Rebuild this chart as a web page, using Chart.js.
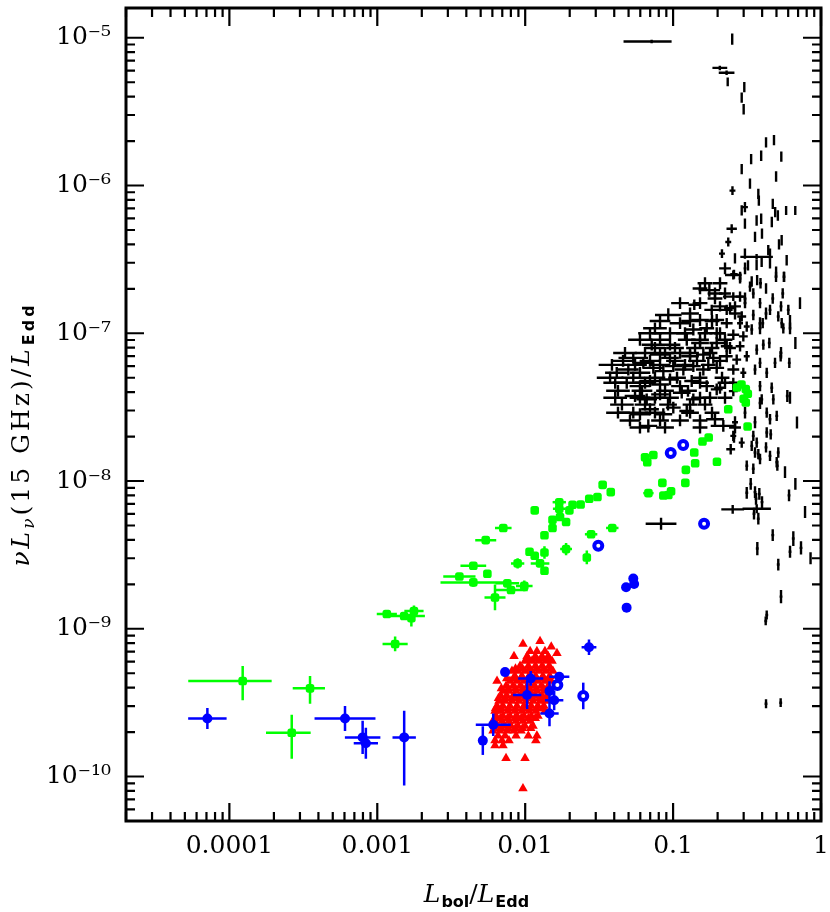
<!DOCTYPE html>
<html><head><meta charset="utf-8">
<script src="https://cdn.jsdelivr.net/npm/chart.js@4.4.1/dist/chart.umd.min.js"></script>
<style>html,body{margin:0;padding:0;background:#fff;}canvas{display:block;}</style>
</head><body>
<canvas id="c" width="830" height="912"></canvas>
<script>
// ---------- axis values ----------
const xRange = [2e-5, 1];
const yRange = [5e-11, 1.59e-5];
const xTickValues = [1e-4, 1e-3, 1e-2, 1e-1, 1];
const xTickLabels = ['0.0001', '0.001', '0.01', '0.1', '1'];
const yTickValues = [1e-10, 1e-9, 1e-8, 1e-7, 1e-6, 1e-5];
const yTickLabels = ['10\u207B\u00B9\u2070', '10\u207B\u2079', '10\u207B\u2078', '10\u207B\u2077', '10\u207B\u2076', '10\u207B\u2075'];

// ---------- series: [x, y, xErr(dex), yErr(dex)] ; err may be [low, high] ----------
const blackPts = [
[0.0716,9.44e-6,[0.19,0.135],0.012],[0.251,9.80e-6,0.008,0.038],[0.207,6.25e-6,0.05,0.015],[0.230,5.79e-6,0.053,0.015],
[0.234,5.03e-6,0.008,0.03],[0.303,4.63e-6,0.008,0.035],[0.291,3.93e-6,0.008,0.035],[0.300,3.28e-6,0.008,0.035],
[0.425,1.96e-6,0.008,0.035],[0.481,2.03e-6,0.008,0.035],[0.394,1.59e-6,0.008,0.035],[0.337,1.51e-6,0.008,0.035],
[0.539,1.57e-6,0.008,0.035],[0.291,1.29e-6,0.008,0.035],[0.497,1.15e-6,0.008,0.035],[0.252,9.24e-7,0.02,0.03],
[0.377,8.78e-7,0.008,0.035],[0.380,7.91e-7,0.008,0.035],[0.291,6.78e-7,0.008,0.035],[0.306,7.14e-7,0.02,0.035],
[0.367,5.80e-7,0.008,0.035],[0.394,5.96e-7,0.008,0.035],[0.490,6.61e-7,0.008,0.035],[0.511,6.27e-7,0.008,0.035],
[0.581,6.78e-7,0.008,0.03],[0.670,6.78e-7,0.008,0.03],[0.465,5.66e-7,0.008,0.035],[0.249,5.10e-7,0.035,0.03],
[0.306,5.52e-7,0.008,0.035],[0.236,4.15e-7,0.02,0.03],[0.358,4.49e-7,0.008,0.035],[0.542,4.26e-7,0.008,0.035],
[0.520,4.00e-7,0.008,0.035],[0.214,3.46e-7,0.02,0.03],[0.262,3.21e-7,0.008,0.035],[0.367,3.29e-7,0.11,0.02],
[0.306,3.46e-7,0.008,0.035],[0.367,2.89e-7,0.008,0.035],[0.397,3.05e-7,0.008,0.035],[0.440,3.65e-7,0.008,0.035],
[0.452,2.97e-7,0.008,0.035],[0.586,3.12e-7,0.008,0.035],[0.562,2.41e-7,0.008,0.035],[0.497,2.61e-7,0.008,0.035],
[0.258,2.51e-7,0.025,0.03],[0.284,2.41e-7,0.008,0.035],[0.340,2.24e-7,0.008,0.035],[0.370,2.29e-7,0.008,0.035],
[0.399,4.72e-7,0.008,0.035],[0.472,7.52e-7,0.008,0.035],[0.331,1.03e-6,0.008,0.035],[0.452,3.46e-7,0.008,0.035],
[0.321,2.88e-7,0.008,0.035],[0.425,2.01e-7,0.008,0.035],[0.617,1.21e-7,0.008,0.04],[0.671,8.59e-8,0.008,0.04],
[0.721,1.60e-7,0.008,0.04],
[0.1758,1.96e-7,0.073,0.045],[0.2553,2.48e-7,0.056,0.03],[0.2836,2.35e-7,0.01,0.035],[0.390,2.18e-7,0.01,0.035],
[0.3312,2.07e-7,0.01,0.035],[0.3486,1.86e-7,0.01,0.035],[0.2836,1.77e-7,0.03,0.035],[0.2553,1.77e-7,0.07,0.03],
[0.387,1.60e-7,0.01,0.035],[0.4716,1.72e-7,0.01,0.035],[0.551,1.86e-7,0.01,0.035],[0.4965,2.41e-7,0.01,0.035],
[0.5623,2.41e-7,0.01,0.035],[0.0928,1.33e-7,0.09,0.045],[0.1391,1.56e-7,0.04,0.035],[0.1825,1.44e-7,0.05,0.035],
[0.2076,1.52e-7,0.05,0.035],[0.2304,1.44e-7,0.04,0.035],[0.2622,1.52e-7,0.04,0.035],[0.3486,1.33e-7,0.01,0.035],
[0.4521,1.44e-7,0.01,0.035],[0.5142,1.30e-7,0.01,0.035],[0.6012,1.44e-7,0.01,0.035],[0.2911,1.30e-7,0.03,0.035],
[0.5366,1.52e-7,0.01,0.035],
[0.1114,1.17e-7,0.07,0.04],[0.1521,1.23e-7,0.06,0.04],[0.1972,1.23e-7,0.05,0.04],[0.2304,1.17e-7,0.04,0.035],
[0.3147,1.11e-7,0.02,0.035],[0.4036,1.17e-7,0.01,0.035],[0.3401,1.06e-7,0.01,0.035],[0.0953,1.00e-7,0.124,0.04],
[0.137,1.06e-7,0.06,0.04],[0.1688,1.08e-7,0.05,0.04],[0.1972,1.00e-7,0.05,0.04],[0.2553,9.77e-8,0.04,0.035],
[0.2984,9.53e-8,0.03,0.035],[0.4473,8.59e-8,0.01,0.035],[0.5424,1.17e-7,0.01,0.035],[0.5561,1.08e-7,0.01,0.035],
[0.0717,8.37e-8,0.068,0.04],[0.0953,8.37e-8,0.07,0.04],[0.1237,9.04e-8,0.06,0.04],[0.1521,8.59e-8,0.06,0.04],
[0.1972,8.59e-8,0.05,0.04],[0.2304,8.16e-8,0.04,0.04],[0.2836,8.16e-8,0.03,0.035],[0.3676,7.74e-8,0.01,0.035],
[0.4074,8.37e-8,0.01,0.035],[0.0538,6.81e-8,0.1,0.04],[0.0629,6.30e-8,0.07,0.04],[0.0816,7.17e-8,0.07,0.04],
[0.0953,6.81e-8,0.06,0.04],[0.1114,7.36e-8,0.06,0.04],[0.1302,6.99e-8,0.06,0.04],[0.1601,7.17e-8,0.05,0.04],
[0.187,6.81e-8,0.05,0.04],[0.2304,6.99e-8,0.04,0.04],[0.2692,6.63e-8,0.03,0.035],[0.3147,6.99e-8,0.02,0.035],
[0.387,6.30e-8,0.01,0.035],[0.4888,6.30e-8,0.01,0.035],[0.5337,6.99e-8,0.01,0.035],[0.6107,6.30e-8,0.01,0.035],
[0.5366,7.36e-8,0.01,0.04],
[0.0416,5.40e-8,0.079,0.04],[0.0498,5.68e-8,0.07,0.04],[0.0597,5.40e-8,0.07,0.04],[0.0735,5.83e-8,0.07,0.04],
[0.0859,5.54e-8,0.06,0.04],[0.1003,5.99e-8,0.06,0.04],[0.1173,5.68e-8,0.06,0.04],[0.137,5.99e-8,0.05,0.04],
[0.1601,5.68e-8,0.05,0.04],[0.1972,5.83e-8,0.05,0.04],[0.2553,5.68e-8,0.04,0.035],[0.2984,5.40e-8,0.02,0.035],
[0.358,5.68e-8,0.01,0.035],[0.4295,5.40e-8,0.01,0.035],[0.0486,4.62e-8,0.096,0.04],[0.0597,4.39e-8,0.07,0.04],
[0.0698,4.75e-8,0.07,0.04],[0.0816,4.50e-8,0.06,0.04],[0.0953,4.87e-8,0.06,0.04],[0.1114,4.39e-8,0.06,0.04],
[0.1336,4.75e-8,0.05,0.04],[0.1688,4.39e-8,0.05,0.04],[0.2076,4.28e-8,0.04,0.04],[0.2553,4.62e-8,0.03,0.035],
[0.387,4.39e-8,0.01,0.035],[0.4643,4.28e-8,0.01,0.035],[0.0553,3.76e-8,0.07,0.04],[0.0663,3.57e-8,0.07,0.04],
[0.0816,3.86e-8,0.06,0.04],[0.0953,3.66e-8,0.06,0.04],[0.1144,3.96e-8,0.06,0.04],[0.137,3.57e-8,0.05,0.04],
[0.1777,3.66e-8,0.05,0.04],[0.1972,4.17e-8,0.04,0.04],[0.2553,4.06e-8,0.03,0.035],[0.3974,3.57e-8,0.01,0.035],
[0.476,3.57e-8,0.01,0.035],[0.592,3.76e-8,0.01,0.04],
[0.0538,2.90e-8,0.1,0.04],[0.0597,2.83e-8,0.07,0.04],[0.0698,3.06e-8,0.06,0.04],[0.0859,2.83e-8,0.06,0.04],
[0.1003,3.14e-8,0.05,0.04],[0.1237,2.98e-8,0.05,0.04],[0.068,2.36e-8,0.06,0.045],[0.192,2.62e-8,0.06,0.04],
[0.2185,2.36e-8,0.085,0.04],[0.2553,2.02e-8,0.02,0.035],[0.2911,1.82e-8,0.02,0.035],[0.4295,2.90e-8,0.01,0.035],
[0.4521,2.62e-8,0.01,0.035],[0.5019,2.76e-8,0.01,0.035],[0.4295,2.13e-8,0.01,0.035],[0.3401,1.73e-8,0.01,0.035],
[0.358,1.56e-8,0.01,0.035],[0.387,1.41e-8,0.01,0.035],[0.5142,1.56e-8,0.01,0.035],[0.5019,1.34e-8,0.01,0.035],
[0.3147,1.27e-8,0.01,0.035],[0.2452,1.64e-8,0.03,0.035],[0.2581,1.97e-8,0.01,0.035],[0.3486,1.21e-8,0.01,0.035],
[0.3486,2.02e-8,0.01,0.035],[0.3676,1.82e-8,0.01,0.035],[0.3769,1.52e-8,0.01,0.035],[0.4571,2.07e-8,0.01,0.035],
[0.4249,1.69e-8,0.01,0.035],[0.4521,1.48e-8,0.01,0.035],[0.5067,1.27e-8,0.01,0.035],
[0.0754,7.95e-8,0.07,0.04],[0.1030,7.95e-8,0.06,0.04],[0.1407,7.95e-8,0.06,0.04],[0.1833,7.95e-8,0.05,0.04],[0.2425,7.95e-8,0.04,0.04],
[0.0459,6.50e-8,0.08,0.04],[0.0698,6.50e-8,0.07,0.04],[0.1030,6.50e-8,0.06,0.04],[0.1451,6.50e-8,0.06,0.04],[0.2076,6.50e-8,0.05,0.04],
[0.0375,5.00e-8,0.09,0.04],[0.0538,5.00e-8,0.08,0.04],[0.0754,5.00e-8,0.07,0.04],[0.1063,5.00e-8,0.06,0.04],[0.1521,5.00e-8,0.05,0.04],[0.2142,5.00e-8,0.05,0.04],
[0.0424,4.08e-8,0.08,0.04],[0.0616,4.08e-8,0.07,0.04],[0.0882,4.08e-8,0.06,0.04],[0.1261,4.08e-8,0.06,0.04],[0.3064,4.08e-8,0.01,0.04],
[0.0451,3.29e-8,0.08,0.04],[0.0646,3.29e-8,0.07,0.04],[0.0924,3.29e-8,0.06,0.04],[0.1302,3.29e-8,0.05,0.04],[0.1643,3.29e-8,0.05,0.04],
[0.0511,2.57e-8,0.07,0.04],[0.0816,2.57e-8,0.06,0.04],[0.1114,2.57e-8,0.06,0.04],[0.1521,2.57e-8,0.05,0.04],
[0.0698,1.00e-7,0.08,0.04],[0.1204,1.00e-7,0.06,0.04],[0.1643,1.00e-7,0.05,0.04],
[0.0816,1.21e-7,0.07,0.04],[0.1302,1.21e-7,0.06,0.04],[0.1833,1.21e-7,0.05,0.04],
[0.1114,1.60e-7,0.06,0.04],[0.1521,1.60e-7,0.05,0.04],[0.3064,1.60e-7,0.01,0.035],
[0.1920,1.86e-7,0.05,0.04],[0.2244,1.86e-7,0.04,0.04],
[0.0597,9.04e-8,0.08,0.04],[0.0816,9.04e-8,0.07,0.04],[0.1521,9.04e-8,0.06,0.04],[0.2244,9.04e-8,0.05,0.04],
[0.0473,7.36e-8,0.08,0.04],[0.0646,7.36e-8,0.07,0.04],[0.0882,7.36e-8,0.07,0.04],[0.1302,7.36e-8,0.06,0.04],[0.1777,7.36e-8,0.05,0.04],
[0.0386,6.11e-8,0.09,0.04],[0.0553,6.11e-8,0.08,0.04],[0.0816,6.11e-8,0.07,0.04],[0.1204,6.11e-8,0.06,0.04],[0.1730,6.11e-8,0.05,0.04],
[0.0406,4.62e-8,0.08,0.04],[0.0646,4.62e-8,0.07,0.04],[0.1521,4.62e-8,0.06,0.04],[0.2244,4.62e-8,0.05,0.04],
[0.0406,3.66e-8,0.08,0.04],[0.0597,3.66e-8,0.07,0.04],[0.0754,3.66e-8,0.07,0.04],[0.1521,3.66e-8,0.06,0.04],[0.2244,3.66e-8,0.05,0.04],
[0.0424,2.90e-8,0.08,0.04],[0.0754,2.90e-8,0.07,0.04],[0.1302,2.90e-8,0.06,0.04],[0.1833,2.90e-8,0.05,0.04],
[0.0597,2.30e-8,0.07,0.04],[0.0882,2.30e-8,0.06,0.04],[0.1521,2.30e-8,0.05,0.04],[0.2622,2.30e-8,0.04,0.04],
[0.1302,1.36e-7,0.06,0.04],[0.2622,1.36e-7,0.04,0.04],[0.4249,1.36e-7,0.01,0.04],
[0.0754,1.08e-7,0.08,0.04],[0.387,1.08e-7,0.01,0.04],[0.6174,1.08e-7,0.01,0.04],
[0.2076,2.18e-7,0.05,0.04],[0.1643,2.18e-7,0.05,0.04],[0.3064,2.75e-7,0.01,0.04],[0.2244,2.75e-7,0.04,0.04],
[0.1521,2.01e-7,0.05,0.04],[0.192,1.72e-7,0.05,0.04],[0.2425,1.48e-7,0.04,0.04],[0.3064,1.72e-7,0.01,0.04],
[0.387,1.17e-7,0.01,0.04],[0.2076,1.00e-7,0.04,0.04],[0.2836,1.17e-7,0.02,0.04],
[0.3064,2.90e-8,0.01,0.04],[0.358,2.50e-8,0.01,0.04],[0.2622,2.50e-8,0.02,0.04],[0.387,3.37e-8,0.01,0.04],
[0.617,3.66e-8,0.008,0.04],[0.688,2.49e-8,0.008,0.04],[0.571,1.15e-8,0.008,0.04],[0.671,9.56e-9,0.008,0.04],
[0.780,6.17e-9,0.008,0.04],[0.850,3.0e-9,0.008,0.04],
[0.3147,8.32e-9,0.01,0.04],[0.3348,9.56e-9,0.01,0.04],[0.358,8.41e-9,0.01,0.04],[0.3636,7.58e-9,0.01,0.04],
[0.3828,8.19e-9,0.01,0.04],[0.3992,7.20e-9,0.01,0.04],[0.3676,6.49e-9,0.096,0.03],[0.2529,6.43e-9,0.077,0.03],
[0.3524,6.01e-9,0.01,0.04],[0.3769,5.56e-9,0.01,0.04],[0.0829,5.14e-9,0.104,0.04],[0.6079,7.99e-9,0.01,0.04],
[0.4716,4.30e-9,0.01,0.04],[0.6499,4.08e-9,0.01,0.05],[0.3711,3.49e-9,0.01,0.045],[0.6174,3.32e-9,0.01,0.04],
[0.7325,3.53e-9,0.01,0.045],[0.5142,2.72e-9,0.01,0.04],[0.5366,1.65e-9,0.01,0.045],[0.4295,1.24e-9,0.01,0.03],
[0.4228,1.13e-9,0.01,0.03],[0.4249,3.11e-10,0.01,0.03],[0.5337,3.16e-10,0.01,0.03]
];

const greenPts = [
[1.23e-4,4.43e-10,[0.368,0.196],[0.13,0.101]],[3.51e-4,3.95e-10,[0.117,0.101],[0.104,0.083]],
[2.64e-4,1.98e-10,[0.174,0.128],[0.177,0.121]],[1.32e-3,7.89e-10,0.085,0.05],
[1.16e-3,1.26e-9,0.068,0.015],[1.52e-3,1.22e-9,0.14,0.015],[1.77e-3,1.32e-9,0.065,0.037],[1.70e-3,1.18e-9,0.02,[0.056,0.034]],
[3.59e-3,2.26e-9,0.109,0.015],[4.46e-3,2.06e-9,0.222,0.03],[4.46e-3,2.67e-9,0.087,0.015],[5.55e-3,2.36e-9,0,0],
[5.41e-3,3.98e-9,0.071,0.01],[7.11e-3,4.81e-9,0.056,0.01],[6.25e-3,1.63e-9,0.071,0.087],[7.57e-3,2.03e-9,0.08,0.015],
[8.02e-3,1.83e-9,0.113,0.02],[9.86e-3,1.95e-9,0.056,0.036],[8.89e-3,2.77e-9,0.045,0.034],[1.07e-2,3.32e-9,0.02,0.01],
[1.16e-2,3.12e-9,0.02,0.02],[1.26e-2,2.77e-9,0.063,0.01],[1.35e-2,3.28e-9,0.01,0.042],[1.35e-2,2.47e-9,0,0],
[1.35e-2,4.30e-9,0,0],[1.53e-2,4.81e-9,0,0],[1.53e-2,5.47e-9,0,0],[1.89e-2,5.28e-9,0,0],[1.72e-2,5.71e-9,0,0],
[1.16e-2,6.33e-9,0.02,0],[1.70e-2,6.49e-9,0.043,0],[1.70e-2,7.19e-9,0.045,0],[1.99e-2,6.33e-9,0,0],
[2.09e-2,6.90e-9,0,0],[2.37e-2,6.94e-9,0,0],[2.71e-2,7.59e-9,0,0],[3.08e-2,7.79e-9,0,0],[3.34e-2,9.42e-9,0,0],
[3.79e-2,8.41e-9,0.02,0],[3.88e-2,4.81e-9,0.042,0],[2.79e-2,4.36e-9,0.042,0],[1.89e-2,3.46e-9,0.04,0.042],
[2.61e-2,3.04e-9,0.02,0.047],
[6.46e-2,1.45e-8,0,0],[6.69e-2,1.34e-8,0,0],[7.35e-2,1.50e-8,0,0],[6.81e-2,8.28e-9,0.035,0],
[8.46e-2,9.72e-9,0,0],[8.59e-2,7.98e-9,0,0],[9.29e-2,8.05e-9,0,0],[9.69e-2,8.53e-9,0,0],
[0.122,1.19e-8,0,0],[0.121,9.72e-9,0,0],[0.139,1.56e-8,0,0],[0.141,1.32e-8,0,0],[0.158,1.85e-8,0,0],
[0.174,1.97e-8,0,0],[0.198,1.35e-8,0,0],[0.319,2.34e-8,0,0],[0.236,3.06e-8,0,0],
[0.27,4.3e-8,0,0],[0.29,4.5e-8,0,0],[0.31,4.2e-8,0,0],[0.32,3.9e-8,0,0],[0.30,3.6e-8,0,0],[0.31,3.4e-8,0,0]
];

const bluePts = [
[7.1e-5,2.47e-10,0.13,0.071],[6.05e-4,2.47e-10,0.206,0.084],[7.96e-4,1.84e-10,0.12,0.113],[8.37e-4,1.68e-10,0.082,0.105],
[1.52e-3,1.84e-10,0.079,[0.325,0.18]],[5.17e-3,1.75e-10,0,0.097],[6.08e-3,2.24e-10,0.118,0.076],[7.31e-3,5.09e-10,0,0],
[1.09e-2,4.61e-10,0.085,0.05],[1.03e-2,3.56e-10,0.096,0.095],[1.46e-2,3.79e-10,0.015,0.067],[1.70e-2,4.73e-10,0.068,0.02],
[1.57e-2,3.28e-10,0.062,0.067],[1.46e-2,2.67e-10,0.062,0.087],[2.70e-2,7.50e-10,0.05,0.053],[4.85e-2,1.39e-9,0,0],
[5.38e-2,2.19e-9,0,0],[5.45e-2,2.01e-9,0,0],[4.81e-2,1.91e-9,0,0]
];

const blueOpenPts = [
[1.65e-2,4.16e-10,0,0],[2.47e-2,3.51e-10,0,0.09],[3.12e-2,3.64e-9,0,0],[9.64e-2,1.55e-8,0,0],
[0.117,1.75e-8,0,0],[0.162,5.14e-9,0,0]
];

const redPts = [
[1.26e-2,8.22e-10],[9.66e-3,7.88e-10],[1.50e-2,7.55e-10],
[1.08e-2,7.05e-10],[1.20e-2,7.05e-10],[1.36e-2,7.05e-10],[1.64e-2,6.83e-10],
[8.40e-3,6.52e-10],[1.03e-2,6.52e-10],[1.17e-2,6.52e-10],[1.30e-2,6.52e-10],[1.43e-2,6.52e-10],
[1.05e-2,6.27e-10],[1.17e-2,6.27e-10],[1.31e-2,6.27e-10],[1.46e-2,6.27e-10],
[9.97e-3,6.04e-10],[1.11e-2,6.04e-10],[1.24e-2,6.04e-10],[1.38e-2,6.04e-10],[1.52e-2,6.04e-10],
[9.23e-3,5.59e-10],[1.05e-2,5.59e-10],[1.17e-2,5.59e-10],[1.30e-2,5.59e-10],[1.45e-2,5.59e-10],
[8.6e-3,5.37e-10],[9.6e-3,5.37e-10],[1.07e-2,5.37e-10],[1.20e-2,5.37e-10],[1.34e-2,5.37e-10],[1.49e-2,5.37e-10],
[8.14e-3,5.17e-10],[8.94e-3,5.17e-10],[9.97e-3,5.17e-10],[1.11e-2,5.17e-10],[1.24e-2,5.17e-10],[1.38e-2,5.17e-10],[1.54e-2,5.17e-10],
[8.53e-3,4.78e-10],[9.52e-3,4.78e-10],[1.06e-2,4.78e-10],[1.18e-2,4.78e-10],[1.32e-2,4.78e-10],[1.47e-2,4.78e-10],
[7.5e-3,4.60e-10],[8.3e-3,4.60e-10],[9.3e-3,4.60e-10],[1.04e-2,4.60e-10],[1.16e-2,4.60e-10],[1.29e-2,4.60e-10],[1.43e-2,4.60e-10],
[6.45e-3,4.43e-10],[7.89e-3,4.43e-10],[8.81e-3,4.43e-10],[9.82e-3,4.43e-10],[1.10e-2,4.43e-10],[1.22e-2,4.43e-10],[1.36e-2,4.43e-10],[1.50e-2,4.43e-10],
[7.42e-3,4.10e-10],[8.27e-3,4.10e-10],[9.23e-3,4.10e-10],[1.03e-2,4.10e-10],[1.15e-2,4.10e-10],[1.28e-2,4.10e-10],[1.43e-2,4.10e-10],
[6.9e-3,3.94e-10],[7.7e-3,3.94e-10],[8.6e-3,3.94e-10],[9.6e-3,3.94e-10],[1.07e-2,3.94e-10],[1.19e-2,3.94e-10],[1.33e-2,3.94e-10],[1.46e-2,3.94e-10],
[7.08e-3,3.79e-10],[7.77e-3,3.79e-10],[8.67e-3,3.79e-10],[9.66e-3,3.79e-10],[1.08e-2,3.79e-10],[1.20e-2,3.79e-10],[1.34e-2,3.79e-10],[1.45e-2,3.79e-10],
[6.86e-3,3.51e-10],[7.54e-3,3.51e-10],[8.40e-3,3.51e-10],[9.37e-3,3.51e-10],[1.05e-2,3.51e-10],[1.17e-2,3.51e-10],[1.30e-2,3.51e-10],[1.40e-2,3.51e-10],
[6.6e-3,3.38e-10],[7.3e-3,3.38e-10],[8.1e-3,3.38e-10],[9.0e-3,3.38e-10],[1.00e-2,3.38e-10],[1.12e-2,3.38e-10],[1.25e-2,3.38e-10],[1.37e-2,3.38e-10],
[6.65e-3,3.25e-10],[7.31e-3,3.25e-10],[8.14e-3,3.25e-10],[9.08e-3,3.25e-10],[1.01e-2,3.25e-10],[1.13e-2,3.25e-10],[1.26e-2,3.25e-10],[1.38e-2,3.25e-10],
[6.45e-3,3.00e-10],[7.08e-3,3.00e-10],[7.89e-3,3.00e-10],[8.81e-3,3.00e-10],[9.82e-3,3.00e-10],[1.10e-2,3.00e-10],[1.22e-2,3.00e-10],[1.34e-2,3.00e-10],
[6.3e-3,2.89e-10],[6.9e-3,2.89e-10],[7.7e-3,2.89e-10],[8.6e-3,2.89e-10],[9.6e-3,2.89e-10],[1.07e-2,2.89e-10],[1.19e-2,2.89e-10],[1.31e-2,2.89e-10],
[6.25e-3,2.78e-10],[6.86e-3,2.78e-10],[7.65e-3,2.78e-10],[8.53e-3,2.78e-10],[9.52e-3,2.78e-10],[1.06e-2,2.78e-10],[1.18e-2,2.78e-10],[1.36e-2,2.78e-10],
[6.35e-3,2.57e-10],[7.08e-3,2.57e-10],[7.89e-3,2.57e-10],[8.81e-3,2.57e-10],[9.82e-3,2.57e-10],[1.10e-2,2.57e-10],[1.22e-2,2.57e-10],
[6.2e-3,2.48e-10],[6.8e-3,2.48e-10],[7.6e-3,2.48e-10],[8.5e-3,2.48e-10],[9.4e-3,2.48e-10],[1.05e-2,2.48e-10],[1.17e-2,2.48e-10],
[6.25e-3,2.38e-10],[6.97e-3,2.38e-10],[7.77e-3,2.38e-10],[8.67e-3,2.38e-10],[9.66e-3,2.38e-10],[1.08e-2,2.38e-10],
[6.45e-3,2.20e-10],[7.19e-3,2.20e-10],[8.02e-3,2.20e-10],[8.94e-3,2.20e-10],[9.97e-3,2.20e-10],[1.13e-2,2.20e-10],
[6.2e-3,2.12e-10],[6.9e-3,2.12e-10],[7.7e-3,2.12e-10],[8.6e-3,2.12e-10],[9.6e-3,2.12e-10],[1.09e-2,2.12e-10],
[6.06e-3,2.04e-10],[6.76e-3,2.04e-10],[7.54e-3,2.04e-10],[8.40e-3,2.04e-10],[9.37e-3,2.04e-10],
[6.55e-3,1.89e-10],[7.31e-3,1.89e-10],[8.67e-3,1.89e-10],[1.05e-2,1.89e-10],[1.20e-2,1.89e-10],
[6.25e-3,1.75e-10],[6.97e-3,1.75e-10],[7.77e-3,1.75e-10],[1.18e-2,1.75e-10],
[6.25e-3,1.62e-10],[7.08e-3,1.62e-10],
[7.42e-3,1.33e-10],[9.97e-3,1.33e-10],
[9.66e-3,8.3e-11]
];

// ---------- helpers ----------
const toObj = p => ({x: p[0], y: p[1], xe: p[2] || 0, ye: p[3] || 0});
function errRange(v, e) {
  const lo = Array.isArray(e) ? e[0] : e, hi = Array.isArray(e) ? e[1] : e;
  return [v / Math.pow(10, lo), v * Math.pow(10, hi)];
}
function logTickList(min, max) {
  const out = [];
  for (let e = Math.floor(Math.log10(min)); e <= Math.ceil(Math.log10(max)); e++) {
    for (let m = 1; m <= 9; m++) {
      const v = m * Math.pow(10, e);
      if (v >= min * 0.99999 && v <= max * 1.00001) out.push({v: v, major: m === 1});
    }
  }
  return out;
}
function labelFor(vals, labels, v) {
  for (let i = 0; i < vals.length; i++) if (Math.abs(v / vals[i] - 1) < 1e-6) return labels[i];
  return '';
}

const errorBarPlugin = {
  id: 'errbars',
  beforeDatasetDraw(chart, args) {
    const ds = chart.data.datasets[args.index];
    if (!ds.errColor) return;
    const ctx = chart.ctx, xs = chart.scales.x, ys = chart.scales.y, a = chart.chartArea;
    ctx.save();
    ctx.beginPath(); ctx.rect(a.left, a.top, a.right - a.left, a.bottom - a.top); ctx.clip();
    ctx.strokeStyle = ds.errColor; ctx.lineWidth = ds.errWidth; ctx.lineCap = 'butt';
    ds.data.forEach(d => {
      const px = xs.getPixelForValue(d.x), py = ys.getPixelForValue(d.y);
      ctx.beginPath();
      if (d.xe) { const r = errRange(d.x, d.xe); ctx.moveTo(xs.getPixelForValue(r[0]), py); ctx.lineTo(xs.getPixelForValue(r[1]), py); }
      if (d.ye) { const r = errRange(d.y, d.ye); ctx.moveTo(px, ys.getPixelForValue(r[0])); ctx.lineTo(px, ys.getPixelForValue(r[1])); }
      ctx.stroke();
    });
    ctx.restore();
  }
};

const framePlugin = {
  id: 'frame',
  afterDatasetsDraw(chart) {
    const ctx = chart.ctx, a = chart.chartArea, xs = chart.scales.x, ys = chart.scales.y;
    ctx.save();
    ctx.strokeStyle = '#000'; ctx.lineWidth = 2.2; ctx.lineCap = 'butt';
    logTickList(xRange[0], xRange[1]).forEach(t => {
      const p = xs.getPixelForValue(t.v), L = t.major ? 18 : 9;
      ctx.beginPath();
      ctx.moveTo(p, a.bottom); ctx.lineTo(p, a.bottom - L);
      ctx.moveTo(p, a.top); ctx.lineTo(p, a.top + L);
      ctx.stroke();
    });
    logTickList(yRange[0], yRange[1]).forEach(t => {
      const p = ys.getPixelForValue(t.v), L = t.major ? 18 : 9;
      ctx.beginPath();
      ctx.moveTo(a.left, p); ctx.lineTo(a.left + L, p);
      ctx.moveTo(a.right, p); ctx.lineTo(a.right - L, p);
      ctx.stroke();
    });
    ctx.lineWidth = 3;
    ctx.strokeRect(a.left, a.top, a.right - a.left, a.bottom - a.top);
    ctx.restore();
  }
};

function drawRich(ctx, segs, spacing) {
  let total = 0;
  segs.forEach(s => { ctx.font = s.font; s.w = ctx.measureText(s.t).width + spacing * s.t.length; total += s.w + (s.gap || 0); });
  let x = -total / 2;
  segs.forEach(s => {
    ctx.font = s.font;
    let cx = x;
    for (const ch of s.t) { ctx.fillText(ch, cx, s.dy || 0); cx += ctx.measureText(ch).width + spacing; }
    x += s.w + (s.gap || 0);
  });
}
const SERIF = '"DejaVu Serif"', SANS = '"DejaVu Sans"';
const titlePlugin = {
  id: 'titles',
  afterDraw(chart) {
    const ctx = chart.ctx, a = chart.chartArea;
    ctx.save();
    ctx.fillStyle = '#000'; ctx.textBaseline = 'alphabetic'; ctx.textAlign = 'left';
    // x title
    ctx.save();
    ctx.translate((a.left + a.right) / 2 + 3, 902);
    drawRich(ctx, [
      {t: 'L', font: 'italic 25px ' + SERIF, gap: 1},
      {t: 'bol', font: 'bold 16px ' + SANS, dy: 5},
      {t: '/', font: '25px ' + SERIF},
      {t: 'L', font: 'italic 25px ' + SERIF, gap: 1},
      {t: 'Edd', font: 'bold 16px ' + SANS, dy: 5}
    ], 0);
    ctx.restore();
    // y title
    ctx.save();
    ctx.translate(29, (a.top + a.bottom) / 2 + 20);
    ctx.rotate(-Math.PI / 2);
    drawRich(ctx, [
      {t: '\u03BD', font: 'italic 25px ' + SERIF},
      {t: 'L', font: 'italic 25px ' + SERIF},
      {t: '\u03BD', font: 'italic 17px ' + SERIF, dy: 5},
      {t: '(15 GHz)/', font: '25px ' + SERIF},
      {t: 'L', font: 'italic 25px ' + SERIF, gap: 1},
      {t: 'Edd', font: 'bold 16px ' + SANS, dy: 5}
    ], 3);
    ctx.restore();
    ctx.restore();
  }
};

const tickFont = {family: 'DejaVu Serif', size: 25};

new Chart(document.getElementById('c'), {
  type: 'scatter',
  data: {
    datasets: [
      {label: 'black', data: blackPts.map(toObj), pointRadius: 0, pointHoverRadius: 0, borderWidth: 0,
       errColor: '#000000', errWidth: 2.4, order: 5},
      {label: 'green', data: greenPts.map(toObj), pointStyle: 'rectRounded', pointRadius: 5, pointHoverRadius: 5,
       backgroundColor: '#00ff00', borderColor: '#00ff00', borderWidth: 0, errColor: '#00ff00', errWidth: 2.5, order: 4},
      {label: 'red', data: redPts.map(toObj), pointStyle: 'triangle', pointRadius: 5.5, pointHoverRadius: 5.5,
       backgroundColor: '#ff0000', borderColor: '#ff0000', borderWidth: 0, order: 3},
      {label: 'blue', data: bluePts.map(toObj), pointStyle: 'circle', pointRadius: 5, pointHoverRadius: 5,
       backgroundColor: '#0000ff', borderColor: '#0000ff', borderWidth: 0, errColor: '#0000ff', errWidth: 2.5, order: 2},
      {label: 'blueOpen', data: blueOpenPts.map(toObj), pointStyle: 'circle', pointRadius: 4, pointHoverRadius: 4,
       backgroundColor: '#ffffff', borderColor: '#0000ff', borderWidth: 4, errColor: '#0000ff', errWidth: 2.5, order: 1}
    ]
  },
  options: {
    responsive: false, animation: false, devicePixelRatio: 1, events: [],
    layout: {padding: {left: 0, right: 9, top: 3, bottom: 0}},
    plugins: {legend: {display: false}, tooltip: {enabled: false}, title: {display: false}},
    scales: {
      x: {
        type: 'logarithmic', position: 'bottom', min: xRange[0], max: xRange[1], bounds: 'data',
        grid: {display: false, drawTicks: false}, border: {display: false},
        ticks: {font: tickFont, color: '#000', padding: 10, autoSkip: false, maxRotation: 0, minRotation: 0,
                callback: v => labelFor(xTickValues, xTickLabels, v)},
        afterBuildTicks: s => { s.ticks = xTickValues.map(v => ({value: v})); },
        afterFit: s => { s.height = 91; s.paddingLeft = 0; s.paddingRight = 0; }
      },
      y: {
        type: 'logarithmic', position: 'left', min: yRange[0], max: yRange[1], bounds: 'data',
        grid: {display: false, drawTicks: false}, border: {display: false},
        ticks: {font: tickFont, color: '#000', padding: 15, autoSkip: false,
                callback: v => labelFor(yTickValues, yTickLabels, v)},
        afterBuildTicks: s => { s.ticks = yTickValues.map(v => ({value: v})); },
        afterFit: s => { s.width = 126; s.paddingTop = 0; s.paddingBottom = 0; }
      }
    }
  },
  plugins: [errorBarPlugin, framePlugin, titlePlugin]
});
</script>
</body></html>
